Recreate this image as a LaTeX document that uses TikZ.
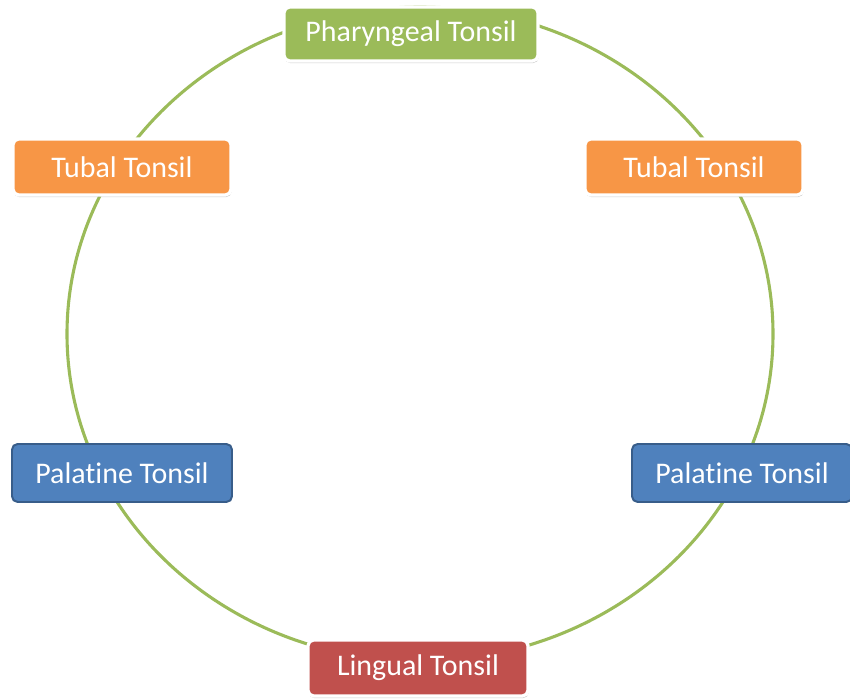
\documentclass[tikz,border=0pt]{standalone}
\usepackage{fontspec}
\setmainfont{Carlito}[Ligatures=NoCommon]
\usetikzlibrary{shadows}
\definecolor{ringgreen}{HTML}{9BBB59}
\definecolor{tuborange}{HTML}{F79646}
\definecolor{palblue}{HTML}{4F81BD}
\definecolor{palborder}{HTML}{385D8A}
\definecolor{lingred}{HTML}{C0504D}

\begin{document}
\begin{tikzpicture}[line width=0.7pt,
  tonsil/.style={rounded corners=4pt, text=white, font=\fontsize{21.3}{25}\selectfont,
    inner sep=0pt, minimum height=1.4cm},
  light/.style={tonsil, draw=white, line width=2.3pt,
    drop shadow={opacity=0.4, shadow xshift=0.5pt, shadow yshift=-1.5pt}},
  dark/.style={tonsil, draw=palborder, line width=1.4pt}]
  \useasboundingbox (0,0) rectangle (21.25,17.5);
  % anillo
  \draw[ringgreen, line width=2.2pt] (10.5,9.15) ellipse [x radius=8.825, y radius=8.175];
  % amigdalas
  \node[light, fill=ringgreen, minimum width=6.35cm, minimum height=1.35cm] (phar) at (10.275,16.65) {Pharyngeal Tonsil};
  \node[light, fill=tuborange, minimum width=5.45cm] (tubL) at (3.05,13.325) {Tubal Tonsil};
  \node[light, fill=tuborange, minimum width=5.45cm] (tubR) at (17.35,13.325) {Tubal Tonsil};
  \node[dark, fill=palblue, minimum width=5.5cm, minimum height=1.45cm] (palL) at (3.05,5.675) {Palatine Tonsil};
  \node[dark, fill=palblue, minimum width=5.5cm, minimum height=1.45cm] (palR) at (18.55,5.675) {Palatine Tonsil};
  \node[light, fill=lingred, minimum width=5.5cm] (ling) at (10.45,0.8) {Lingual Tonsil};
\end{tikzpicture}
\end{document}
